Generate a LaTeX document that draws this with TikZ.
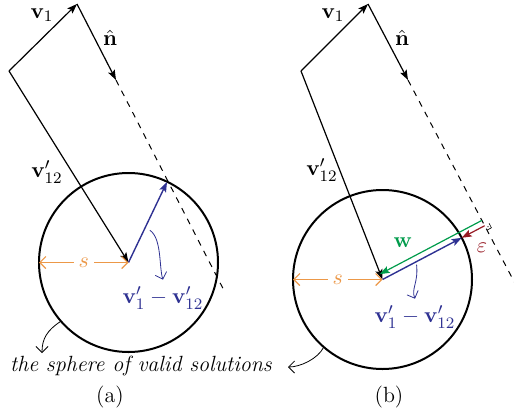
\documentclass[tikz,border=0pt]{standalone}
\usetikzlibrary{
  calc, % Koordinatenrechnung
  arrows.meta, % Pfeilspitzen
  positioning
}
\definecolor{vblau}{RGB}{46,49,146}
\definecolor{sorange}{RGB}{236,152,72}
\definecolor{wgruen}{RGB}{0,155,75}
\definecolor{erot}{RGB}{150,25,35}

\begin{document}
\begin{tikzpicture}[
    x=0.5pt, y=-0.5pt, % Pixelraster
    >={Stealth[length=5pt, width=3.6pt, inset=1pt]}, % Standard-Pfeilspitze
    every node/.style={font=\fontsize{11}{13}\selectfont},
    vec/.style={->, line width=0.6pt}, % Vektorpfeile
    kugel/.style={circle, draw, line width=1pt, inner sep=0pt, outer sep=0pt, minimum size=89.5pt},
    ebene/.style={dashed, line width=0.5pt},
    radius/.style={sorange, line width=0.6pt, {Straight Barb[length=3pt]}-{Straight Barb[length=3pt]}},
    hinweis/.style={line width=0.4pt, -{Straight Barb[length=3pt]}}, % Beschriftungspfeile
  ]
  \useasboundingbox (0,0) rectangle (514,418);
  % Abstand Winkelzeichen
  \def\wk{2.5pt}

  % (a) Koordinaten
  \coordinate (A0) at (9,71);
  \coordinate (A1) at (77,4);
  \coordinate (A2) at (116,80);
  \coordinate (Ae) at ($(A1)!3.8!(A2)$);
  \coordinate (Ta) at (167,182);
  \node[kugel] (Ka) at (128.5,262.5) {};
  % Vektoren
  \draw[vec] (A0) -- (A1);
  \draw[vec] (A1) -- (A2);
  \draw[ebene] (A2) -- (Ae);
  \draw[vec] (A0) -- (Ka.center);
  \draw[vec, vblau, line width=0.7pt] (Ka.center) -- (Ta);
  \draw[radius] (Ka.west) -- node[fill=white, text=sorange, inner sep=2.5pt] (sa) {$s$} (Ka.center);
  % Beschriftung
  \node (v1a) at (42,15) {$\mathbf{v}_1$};
  \node (na) at (110,38) {$\hat{\mathbf{n}}$};
  \node (v12a) at (47,172) {$\mathbf{v}'_{12}$};
  \node[text=vblau] (diffa) at (163,298) {$\mathbf{v}'_1-\mathbf{v}'_{12}$};
  \draw[hinweis, vblau] ($(Ka.center)!0.4!(Ta)+(6,0)$) .. controls +(12,8) and +(-4,-12) .. (diffa.north);

  % (b) Koordinaten
  \coordinate (B0) at (301,71);
  \coordinate (B1) at (368,4);
  \coordinate (B2) at (408,80);
  \coordinate (Be) at ($(B1)!3.75!(B2)$);
  \node[kugel] (Kb) at (382.5,279.5) {};
  \coordinate (Fb) at ($(B2)!(Kb.center)!(Be)$);
  \coordinate (Tb) at ($(Kb.center)!44.75pt!(Fb)$);
  \coordinate (Gs) at ($(Fb)!3pt!-90:(Kb.center)$);
  \coordinate (Ge) at ($(Kb.center)!3pt!90:(Fb)$);
  % Winkelzeichen
  \coordinate (Rn) at ($(Fb)!\wk!(Be)$);
  \coordinate (Rw) at ($(Fb)!-\wk!(Kb.center)$);
  \coordinate (Rc) at ($(Rw)+(Rn)-(Fb)$);
  % Vektoren
  \draw[vec] (B0) -- (B1);
  \draw[vec] (B1) -- (B2);
  \draw[ebene] (B2) -- (Be);
  \draw[vec] (B0) -- (Kb.center);
  \draw[vec, vblau, line width=0.7pt] (Kb.center) -- (Tb);
  \draw[vec, wgruen] (Gs) -- (Ge);
  \draw[vec, erot] (Fb) -- (Tb);
  \draw[line width=0.3pt] (Rw) -- (Rc) -- (Rn);
  \fill ($(Fb)!0.5!(Rc)$) circle (0.3pt);
  \draw[radius] (Kb.west) -- node[fill=white, text=sorange, inner sep=2.5pt] (sb) {$s$} (Kb.center);
  % Beschriftung
  \node (v1b) at (333,15) {$\mathbf{v}_1$};
  \node (nb) at (402,38) {$\hat{\mathbf{n}}$};
  \node (v12b) at (322,170) {$\mathbf{v}'_{12}$};
  \node[text=wgruen] (wb) at (403,243) {$\mathbf{w}$};
  \node[text=erot] (eps) at (482,248) {$\varepsilon$};
  \node[text=vblau] (diffb) at (415,317) {$\mathbf{v}'_1-\mathbf{v}'_{12}$};
  \draw[hinweis, vblau] ($(Kb.center)!0.43!(Tb)+(0,3)$) .. controls +(2,18) and +(-4,-10) .. (diffb.north);

  % Kugel-Text und Unterschriften
  \node[font=\fontsize{11}{13}\selectfont\itshape] (kugeltext) at (141,366) {the sphere of valid solutions};
  \coordinate (Za) at (42,353);
  \coordinate (Zb) at (288,367);
  \draw[hinweis] (Ka.221) .. controls +(-14,9) and +(0,-14) .. (Za);
  \draw[hinweis] (Kb.229) .. controls +(-6,12) and +(12,0) .. (Zb);
  \node (capa) at (110,397) {(a)};
  \node (capb) at (389,397) {(b)};
\end{tikzpicture}
\end{document}
